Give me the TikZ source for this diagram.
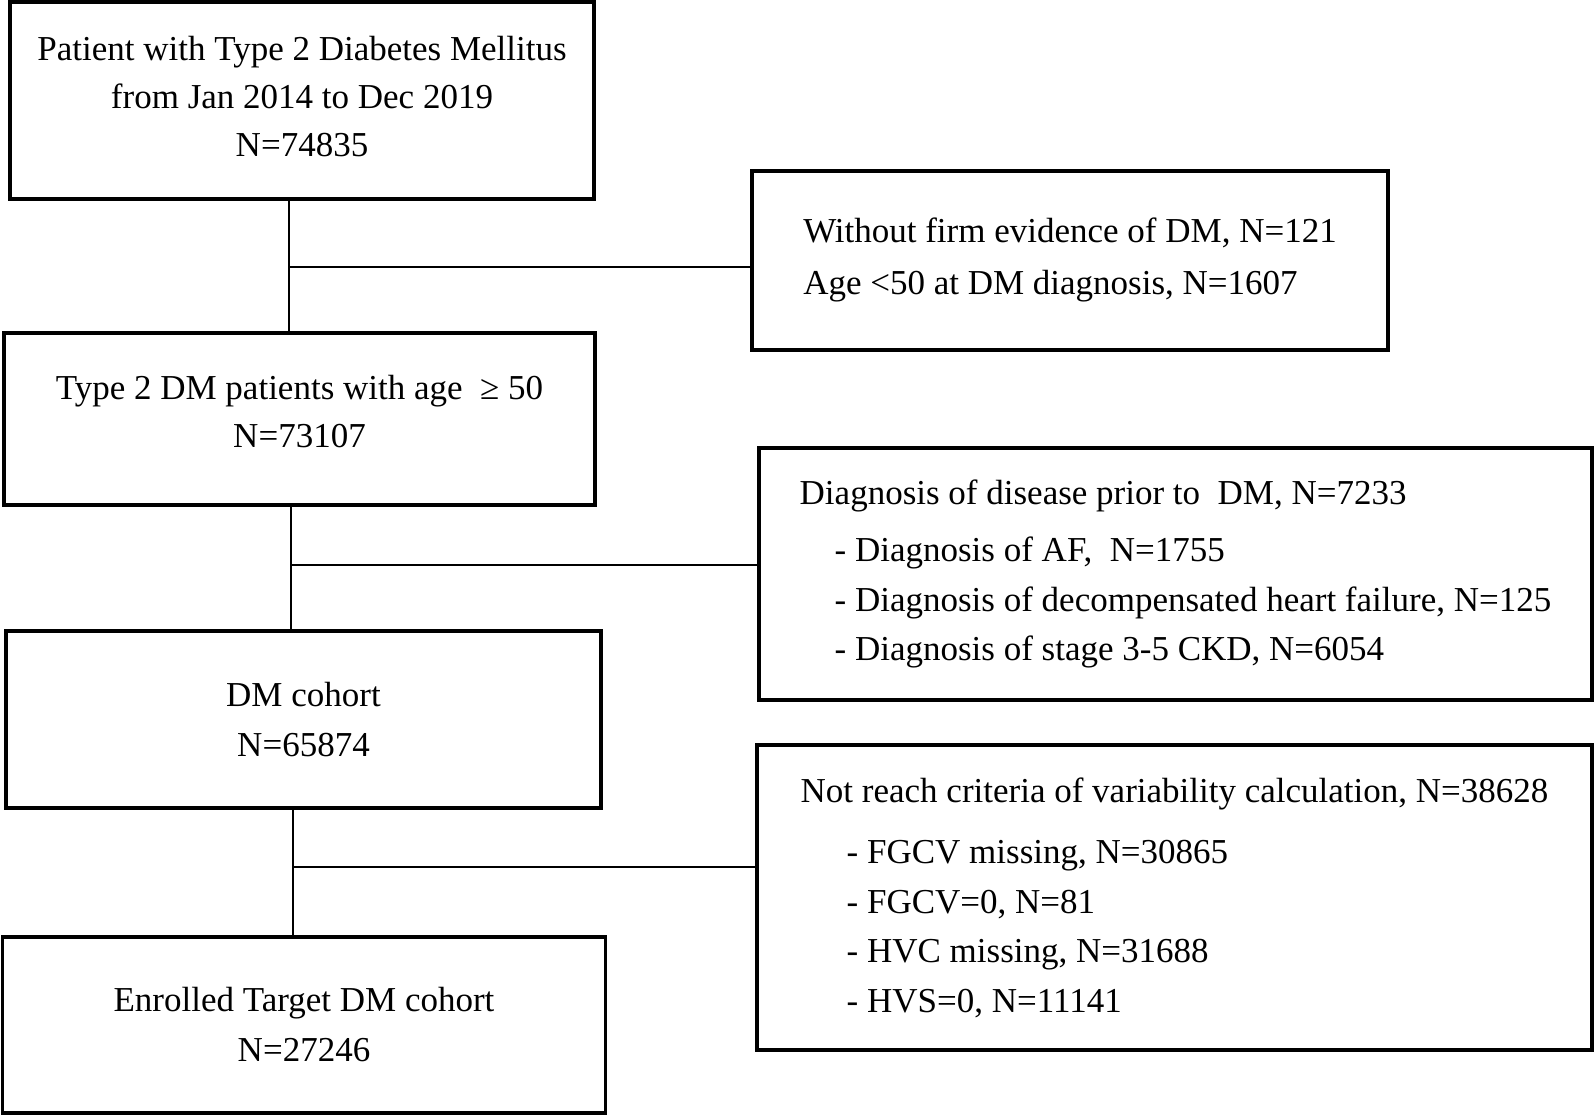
\documentclass[tikz,border=0pt]{standalone}
\usepackage{fontspec}
\setmainfont{Liberation Serif}
\usepackage{tikz}
\usetikzlibrary{positioning,calc}
\tikzstyle{block} = [draw, rectangle, line width=1.6pt, align=center, inner sep=0pt]
\tikzstyle{excl} = [draw, rectangle, line width=1.6pt, align=left, inner sep=0pt]
\tikzstyle{link} = [line width=1.2pt]
\newcommand{\indA}{\hspace*{17.5pt}}
\newcommand{\indB}{\hspace*{23pt}}

\begin{document}
\begin{tikzpicture}[x=0.5pt, y=-0.5pt, font=\fontsize{17.5}{24}\selectfont]
	\useasboundingbox (0,0) rectangle (1594,1116);
	% main column
	\node (b1) [block, minimum width=292pt, minimum height=98.5pt] at (302,100.5)
		{Patient with Type 2 Diabetes Mellitus\\from Jan 2014 to Dec 2019\\N=74835\\[-20pt]\mbox{}};
	\node (b2) [block, minimum width=295.5pt, minimum height=86pt] at (299.5,419)
		{Type 2 DM patients with age\ \ ≥ 50\\N=73107\\[-16pt]\mbox{}};
	\node (b3) [block, minimum width=297.5pt, minimum height=88.5pt] at (303.5,719.5)
		{DM cohort\\[1pt]N=65874};
	\node (b4) [block, minimum width=301.5pt, minimum height=88pt] at (304,1025)
		{Enrolled Target DM cohort\\[1pt]N=27246};
	% exclusions
	\node (e1) [excl, minimum width=318pt, minimum height=89.5pt] at (1070,260.5)
		{Without firm evidence of DM, N=121\\[2pt]Age <50 at DM diagnosis, N=1607\\[-20pt]\mbox{}};
	\node (e2) [excl, minimum width=416.5pt, minimum height=126pt] at (1175.5,574)
		{Diagnosis of disease prior to\ \ DM, N=7233\\[4.5pt]
		\indA- Diagnosis of AF,\ \ N=1755\\[1pt]
		\indA- Diagnosis of decompensated heart failure, N=125\\[0.5pt]
		\indA- Diagnosis of\ stage 3-5 CKD, N=6054};
	\node (e3) [excl, minimum width=417.5pt, minimum height=152.5pt] at (1174.5,897.5)
		{Not reach criteria of variability calculation, N=38628\\[6.5pt]
		\indB- FGCV missing, N=30865\\[1pt]
		\indB- FGCV=0, N=81\\[0.5pt]
		\indB- HVC missing, N=31688\\[1pt]
		\indB- HVS=0, N=11141};
	%
	\coordinate (j1) at (289,267);
	\coordinate (j2) at (291,565);
	\coordinate (j3) at (293,867);
	\draw[link] (j1 |- b1.south) -- (j1 |- b2.north);
	\draw[link] (j2 |- b2.south) -- (j2 |- b3.north);
	\draw[link] (j3 |- b3.south) -- (j3 |- b4.north);
	\draw[link] (j1) -- (j1 -| e1.west);
	\draw[link] (j2) -- (j2 -| e2.west);
	\draw[link] (j3) -- (j3 -| e3.west);
\end{tikzpicture}
\end{document}
